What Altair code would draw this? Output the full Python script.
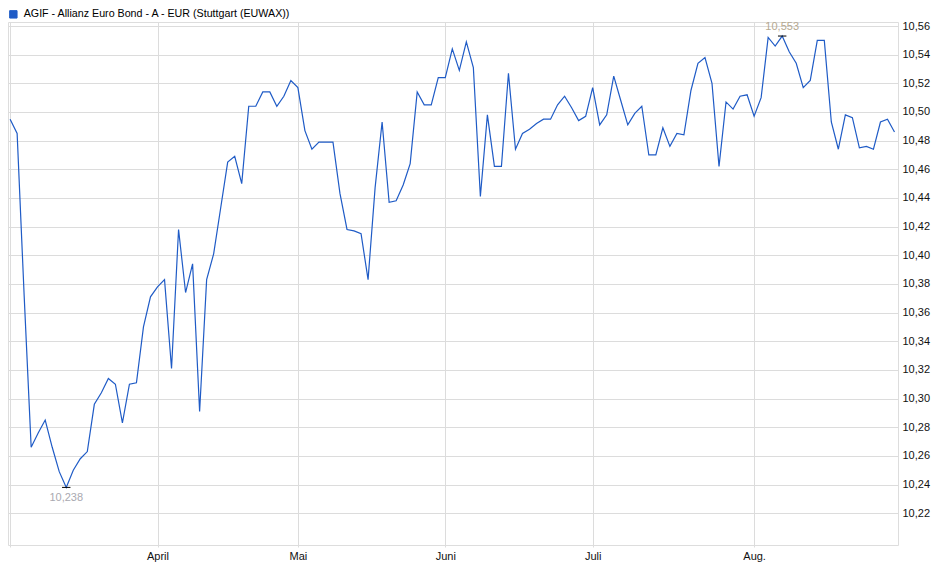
import altair as alt
import pandas as pd

series_name = "AGIF - Allianz Euro Bond - A - EUR (Stuttgart (EUWAX))"

# closing prices per trading day, split by month (2025)
march = [10.495, 10.485, 10.372, 10.266, 10.276, 10.285, 10.266, 10.249, 10.238, 10.250,
         10.258, 10.263, 10.296, 10.304, 10.314, 10.310, 10.283, 10.310, 10.311, 10.350, 10.371]
april = [10.378, 10.383, 10.321, 10.418, 10.374, 10.394, 10.291, 10.383, 10.401, 10.433,
         10.465, 10.469, 10.450, 10.504, 10.504, 10.514, 10.514, 10.504, 10.511, 10.522]
may = [10.517, 10.487, 10.474, 10.479, 10.479, 10.479, 10.443, 10.418, 10.417, 10.415,
       10.383, 10.447, 10.493, 10.437, 10.438, 10.449, 10.464, 10.514, 10.505, 10.505, 10.524]
june = [10.524, 10.544, 10.529, 10.549, 10.531, 10.441, 10.498, 10.462, 10.462, 10.527,
        10.474, 10.485, 10.488, 10.492, 10.495, 10.495, 10.505, 10.511, 10.503, 10.494, 10.497]
july = [10.517, 10.491, 10.498, 10.525, 10.508, 10.491, 10.499, 10.504, 10.470, 10.470,
        10.489, 10.476, 10.485, 10.484, 10.515, 10.534, 10.538, 10.520, 10.462, 10.507,
        10.502, 10.511, 10.512]
aug = [10.497, 10.510, 10.552, 10.546, 10.553, 10.542, 10.534, 10.517, 10.522, 10.550,
       10.550, 10.493, 10.474, 10.498, 10.496, 10.475, 10.476, 10.474, 10.493, 10.495, 10.486]

months = [march, april, may, june, july, aug]
month_labels = ["", "April", "Mai", "Juni", "Juli", "Aug."]
y_ticks = [10.22, 10.24, 10.26, 10.28, 10.30, 10.32, 10.34, 10.36, 10.38,
           10.40, 10.42, 10.44, 10.46, 10.48, 10.50, 10.52, 10.54, 10.56]

values = [v for m in months for v in m]
month_start = []
pos = 0
for m in months:
    month_start.append(pos)
    pos += len(m)

df = pd.DataFrame({"idx": list(range(len(values))), "value": values, "series": series_name})

imin = int(df["value"].idxmin())
imax = int(df["value"].idxmax())
ext = df.loc[[imin, imax]].copy()
ext["x1"] = ext["idx"] - 0.6
ext["x2"] = ext["idx"] + 0.6
ext["label"] = ext["value"].map(lambda v: f"{v:.3f}".replace(".", ","))
ext["kind"] = ["min", "max"]

label_expr = "''"
for p, lab in zip(month_start, month_labels):
    label_expr = f"datum.value == {p} ? '{lab}' : ({label_expr})"

FONT = "Liberation Sans"
LINE = "#1f5bc6"
GRID = "#dcdcdc"

x_scale = alt.Scale(domain=[-0.3, 126.5], nice=False, zero=False)
y_scale = alt.Scale(domain=[10.1978, 10.5628], nice=False, zero=False)

x_axis = alt.Axis(values=month_start, labelExpr=label_expr, title=None, grid=True,
                  gridColor=GRID, domain=False, ticks=True, tickSize=2, tickColor=GRID,
                  labelFontSize=11, labelColor="#111111", labelPadding=3, labelFont=FONT,
                  labelOverlap=False, labelSeparation=0)
y_axis = alt.Axis(orient="right", values=y_ticks, title=None, grid=True, gridColor=GRID,
                  domain=False, ticks=False, labelPadding=4, labelFontSize=11,
                  labelColor="#111111", labelFont=FONT, labelOverlap=False, labelSeparation=0,
                  labelExpr="replace(format(datum.value, '.2f'), '.', ',')")

X = alt.X("idx:Q", scale=x_scale, axis=x_axis)
Y = alt.Y("value:Q", scale=y_scale, axis=y_axis)

line = alt.Chart(df).mark_line(strokeWidth=1.2, clip=True).encode(
    x=X, y=Y,
    color=alt.Color("series:N", scale=alt.Scale(range=[LINE]),
                    legend=alt.Legend(orient="none", legendX=0, legendY=-13, title=None,
                                      symbolType="square", symbolSize=55,
                                      symbolFillColor=LINE, symbolStrokeColor="#0b2a70",
                                      symbolStrokeWidth=1, symbolOpacity=1,
                                      labelFontSize=10.7, labelFont=FONT, labelColor="#000000",
                                      labelLimit=0, padding=0, labelOffset=5)),
)

ticks = alt.Chart(ext).mark_rule(color="#000000", strokeWidth=1).encode(
    x=alt.X("x1:Q", scale=x_scale, axis=x_axis), x2="x2:Q", y=Y)

txt_max = alt.Chart(ext).transform_filter("datum.kind == 'max'").mark_text(
    baseline="bottom", dy=-4, fontSize=11, font=FONT, color="#b5a890").encode(
    x=X, y=Y, text="label:N")

txt_min = alt.Chart(ext).transform_filter("datum.kind == 'min'").mark_text(
    baseline="top", dy=5, fontSize=11, font=FONT, color="#a9a9b0").encode(
    x=X, y=Y, text="label:N")

chart = alt.layer(line, ticks, txt_max, txt_min).properties(
    width=890, height=523,
    autosize=alt.AutoSizeParams(type="none"),
    padding={"left": 0, "top": 14, "right": 34, "bottom": 26},
    background="#ffffff",
).configure_view(stroke="#d0d0d0", strokeWidth=1).configure(font=FONT).configure_axis(
    labelOverlap=False)

chart.save("out.html", embed_options={"renderer": "svg", "actions": False})
